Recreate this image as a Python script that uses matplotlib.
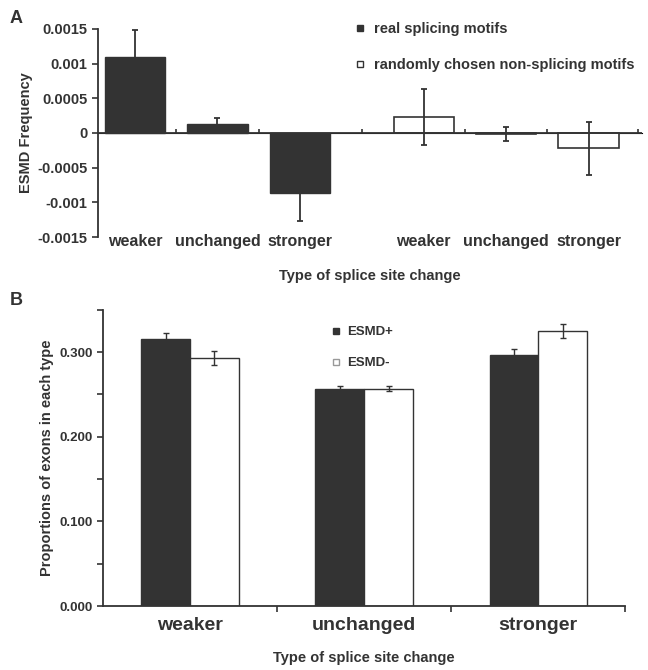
import matplotlib
matplotlib.use("Agg")
import matplotlib.pyplot as plt
from matplotlib.lines import Line2D
from matplotlib.ticker import FuncFormatter, MultipleLocator

plt.rcParams["font.family"] = ["Liberation Sans", "DejaVu Sans"]
plt.rcParams["font.weight"] = "bold"
plt.rcParams["axes.labelweight"] = "bold"
plt.rcParams["axes.unicode_minus"] = False

DARK = "#333333"

# panel A data
a_labels = ["weaker", "unchanged", "stronger"]
a_real = [0.00110, 0.00013, -0.00087]
a_real_err = [0.00038, 0.00008, 0.00039]
a_random = [0.00023, -0.00001, -0.00022]
a_random_err = [0.00040, 0.00010, 0.00038]

# panel B data
b_labels = ["weaker", "unchanged", "stronger"]
b_plus = [0.316, 0.257, 0.297]
b_plus_err = [0.007, 0.003, 0.007]
b_minus = [0.293, 0.257, 0.325]
b_minus_err = [0.008, 0.003, 0.008]

fig = plt.figure(figsize=(6.48, 6.70), dpi=100)

# ---- panel A ----
ax1 = fig.add_axes([0.151, 0.646, 0.840, 0.311])
x_real = [0, 1, 2]
x_rand = [3.5, 4.5, 5.5]
err_kw = dict(ecolor=DARK, elinewidth=1.3, capsize=2.5, capthick=1.3)
ax1.bar(x_real, a_real, width=0.73, color=DARK, edgecolor=DARK,
        yerr=a_real_err, error_kw=err_kw)
ax1.bar(x_rand, a_random, width=0.73, color="white", edgecolor=DARK,
        linewidth=1.2, yerr=a_random_err, error_kw=err_kw)
ax1.set_xlim(-0.45, 6.15)
ax1.set_ylim(-0.0015, 0.0015)
ax1.yaxis.set_major_locator(MultipleLocator(0.0005))
ax1.yaxis.set_major_formatter(FuncFormatter(lambda v, p: "%g" % round(v, 6)))
for s in ["top", "right", "bottom"]:
    ax1.spines[s].set_visible(False)
ax1.spines["left"].set_color(DARK)
ax1.spines["left"].set_linewidth(1.3)
ax1.tick_params(axis="y", colors=DARK, labelsize=10.5, length=4, width=1.2)
ax1.set_xticks(x_real + x_rand)
ax1.set_xticklabels(a_labels + a_labels, fontsize=11.5, color=DARK)
ax1.tick_params(axis="x", length=0, pad=-2)
ax1.axhline(0, color=DARK, lw=1.3)
zero = ax1.secondary_xaxis(0.5)
zero.spines["bottom"].set_visible(False)
zero.set_xticks([0.5, 1.5, 2.75, 4.0, 5.0, 6.1])
zero.set_xticklabels([])
zero.tick_params(length=3, width=1.2, colors=DARK, direction="out")
ax1.set_ylabel("ESMD Frequency", fontsize=10.5, color=DARK, labelpad=3)
ax1.set_xlabel("Type of splice site change", fontsize=10.5, color=DARK, labelpad=14)

leg1 = [Line2D([], [], marker="s", ls="", markersize=5, color=DARK, label="real splicing motifs"),
        Line2D([], [], marker="s", ls="", markersize=5, mfc="white", mec=DARK,
               label="randomly chosen non-splicing motifs")]
ax1.legend(handles=leg1, loc="upper left", bbox_to_anchor=(0.445, 1.095), frameon=False,
           fontsize=10.5, handletextpad=0.4, labelspacing=1.5, labelcolor=DARK, handlelength=1)

fig.text(0.015, 0.965, "A", fontsize=13, color=DARK, weight="bold")

# ---- panel B ----
ax2 = fig.add_axes([0.159, 0.0955, 0.806, 0.442])
xb = [0, 1, 2]
w = 0.28
err_kw2 = dict(ecolor=DARK, elinewidth=1.0, capsize=2, capthick=1.0)
ax2.bar([x - w / 2 for x in xb], b_plus, width=w, color=DARK, edgecolor=DARK,
        yerr=b_plus_err, error_kw=err_kw2)
ax2.bar([x + w / 2 for x in xb], b_minus, width=w, color="white", edgecolor=DARK,
        linewidth=1.0, yerr=b_minus_err, error_kw=err_kw2)
ax2.set_xlim(-0.5, 2.5)
ax2.set_ylim(0, 0.35)
ax2.yaxis.set_major_locator(MultipleLocator(0.1))
ax2.yaxis.set_minor_locator(MultipleLocator(0.05))
ax2.yaxis.set_major_formatter(FuncFormatter(lambda v, p: "%.3f" % v))
for s in ["top", "right"]:
    ax2.spines[s].set_visible(False)
for s in ["left", "bottom"]:
    ax2.spines[s].set_color(DARK)
    ax2.spines[s].set_linewidth(1.3)
ax2.tick_params(axis="y", which="both", colors=DARK, labelsize=9.5, length=4, width=1.2)
ax2.set_xticks(xb)
ax2.set_xticklabels(b_labels, fontsize=14, color=DARK)
ax2.tick_params(axis="x", which="major", length=0, pad=8)
ax2.set_xticks([0.5, 1.5, 2.5], minor=True)
ax2.tick_params(axis="x", which="minor", length=4, width=1.2, colors=DARK)
ax2.set_ylabel("Proportions of exons in each type", fontsize=10.5, color=DARK, labelpad=4)
ax2.set_xlabel("Type of splice site change", fontsize=10.5, color=DARK, labelpad=12)

leg2 = [Line2D([], [], marker="s", ls="", markersize=5, color=DARK, label="ESMD+"),
        Line2D([], [], marker="s", ls="", markersize=5, mfc="white", mec="#999999",
               label="ESMD-")]
ax2.legend(handles=leg2, loc="upper left", bbox_to_anchor=(0.41, 0.985), frameon=False,
           fontsize=9.5, handletextpad=0.4, labelspacing=1.4, labelcolor=DARK, handlelength=1)

fig.text(0.015, 0.545, "B", fontsize=13, color=DARK, weight="bold")

fig.savefig("out.png", dpi=100, facecolor="white")
